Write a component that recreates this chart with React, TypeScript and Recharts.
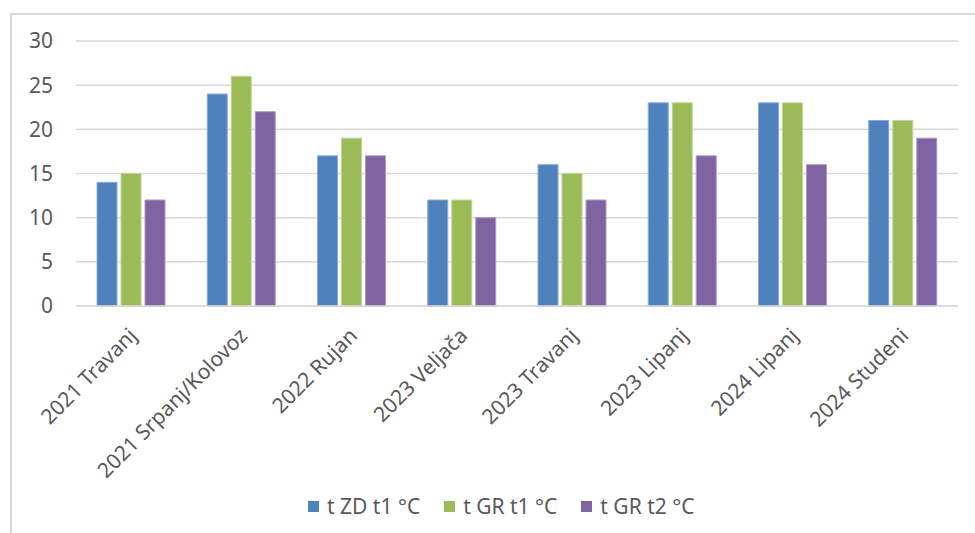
import React from "react";
import { BarChart, Bar, XAxis, YAxis, CartesianGrid, Legend } from "recharts";

const categories = [
  "2021 Travanj",
  "2021 Srpanj/Kolovoz",
  "2022 Rujan",
  "2023 Veljača",
  "2023 Travanj",
  "2023 Lipanj",
  "2024 Lipanj",
  "2024 Studeni",
];
const tZdT1 = [14, 24, 17, 12, 16, 23, 23, 21];
const tGrT1 = [15, 26, 19, 12, 15, 23, 23, 21];
const tGrT2 = [12, 22, 17, 10, 12, 17, 16, 19];
const yTicks = [0, 5, 10, 15, 20, 25, 30];

const seriesNames = ["t ZD t1 °C", "t GR t1 °C", "t GR t2 °C"];
const seriesColors = ["#4F81BD", "#9BBB59", "#8064A2"];
const seriesStrokes = ["#8aaad6", "#c0d596", "#ab99c6"];

const data = categories.map((c, i) => ({
  name: c,
  a: tZdT1[i],
  b: tGrT1[i],
  c: tGrT2[i],
}));

const FONT = "'Noto Sans', 'Open Sans', sans-serif";
const TEXT = "#595959";
const FS = 21;

const XTick = (props: any) => {
  const { x, y, payload } = props;
  return (
    <g transform={`translate(${x + 7},${y + 23})`}>
      <text
        textAnchor="end"
        transform="rotate(-45)"
        fill={TEXT}
        fontSize={FS}
        fontFamily={FONT}
      >
        {payload.value}
      </text>
    </g>
  );
};

const LegendContent = () => (
  <div
    style={{
      display: "flex",
      alignItems: "center",
      paddingLeft: 292,
      height: 30,
      fontFamily: FONT,
      fontSize: FS,
      color: TEXT,
      whiteSpace: "nowrap",
    }}
  >
    {seriesNames.map((n, i) => (
      <div key={n} style={{ display: "flex", alignItems: "center", marginRight: 24 }}>
        <span
          style={{
            display: "inline-block",
            width: 11,
            height: 11,
            background: seriesColors[i],
            marginRight: 8,
          }}
        />
        <span>{n}</span>
      </div>
    ))}
  </div>
);

export default function App() {
  const keys = ["a", "b", "c"];
  return (
    <div
      style={{
        position: "absolute",
        left: 0,
        top: 0,
        width: 975,
        height: 533,
        overflow: "hidden",
        background: "#fff",
      }}
    >
      <div
        style={{
          position: "absolute",
          left: 10,
          top: 13,
          width: 1000,
          height: 600,
          borderLeft: "2px solid #d9d9d9",
          borderTop: "2px solid #d9d9d9",
        }}
      />
      <div style={{ position: "absolute", left: 0, top: 0 }}>
        <BarChart
          width={975}
          height={533}
          data={data}
          margin={{ top: 41, right: 17, left: 16, bottom: 12 }}
          barSize={20}
          barGap={4}
        >
          <CartesianGrid
            vertical={false}
            stroke="#d9d9d9"
            strokeWidth={1.5}
          />
          <XAxis
            dataKey="name"
            interval={0}
            height={185}
            tickLine={false}
            tickSize={6}
            tickMargin={2}
            axisLine={{ stroke: "#d9d9d9", strokeWidth: 1.5 }}
            tick={<XTick />}
          />
          <YAxis
            width={60}
            domain={[0, 30]}
            ticks={yTicks}
            interval={0}
            tickLine={false}
            axisLine={false}
            tickSize={0}
            tickMargin={23}
            tick={{ fill: TEXT, fontSize: FS, fontFamily: FONT }}
          />
          <Legend
            verticalAlign="bottom"
            height={30}
            content={<LegendContent />}
          />
          {keys.map((k, i) => (
            <Bar
              key={k}
              dataKey={k}
              name={seriesNames[i]}
              fill={seriesColors[i]}
              stroke={seriesStrokes[i]}
              strokeWidth={1}
              isAnimationActive={false}
            />
          ))}
        </BarChart>
      </div>
    </div>
  );
}
